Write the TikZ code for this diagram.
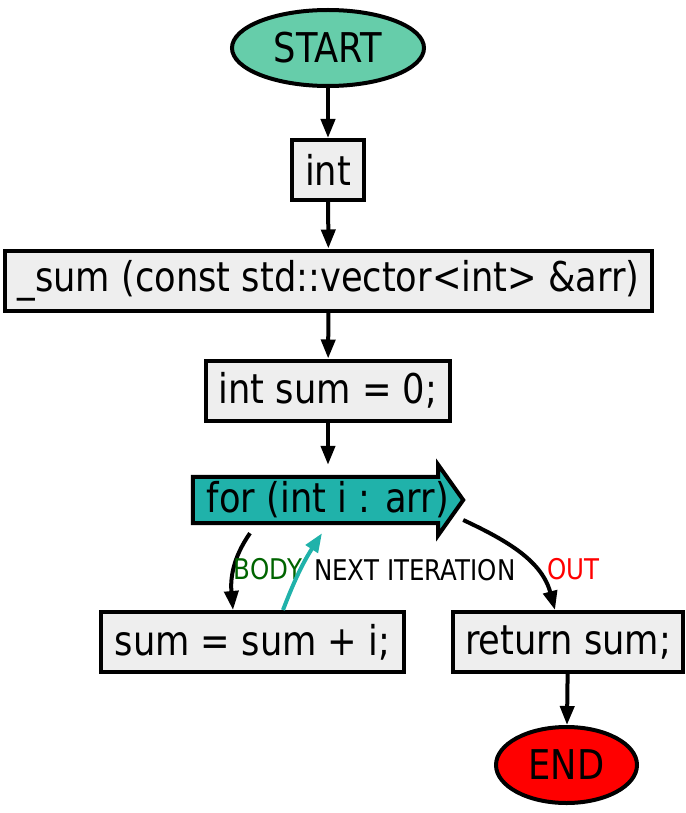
\documentclass[tikz,border=0pt]{standalone}
\usepackage{fontspec}
\setmainfont{DejaVu Sans}[FakeStretch=0.86]
\usetikzlibrary{arrows.meta, shapes.geometric, backgrounds}

\definecolor{startgreen}{HTML}{66CDAA}
\definecolor{loopteal}{HTML}{20B2AA}
\definecolor{boxgray}{HTML}{EEEEEE}
\definecolor{bodygreen}{HTML}{006400}

\tikzset{
    bigtext/.style={font=\fontsize{41}{49}\selectfont},
    stmt/.style={draw, line width=4pt, fill=boxgray, inner sep=0pt, minimum height=60pt, bigtext},
    terminal/.style={ellipse, draw, line width=4pt, inner sep=0pt, minimum height=76pt, bigtext},
    flow/.style={line width=4pt, -{Triangle[length=19pt,width=14pt]}},
    edgelabel/.style={font=\fontsize{28.5}{33}\selectfont, inner sep=2pt}
}

\begin{document}
\begin{tikzpicture}[x=1pt, y=-1pt]
    \useasboundingbox (0,0) rectangle (685,813);

    % Start and header
    \node[terminal, fill=startgreen, minimum width=192pt] (start) at (328,48) {START};
    \node[stmt, minimum width=72pt] (ret type) at (328,170) {int};
    \node[stmt, minimum width=647pt] (head) at (328.5,280.5) {\_sum (const std::vector<int> \&arr)};
    \node[stmt, minimum width=244pt] (init) at (328,390.5) {int sum = 0;};

    % Loop (arrow shaped box)
    \node[inner sep=0pt, minimum width=270pt, minimum height=70pt, bigtext] (loop) at (328,500) {for (int i : arr)};
    \begin{pgfonlayer}{background}
        \filldraw[fill=loopteal, line width=4pt, line join=miter]
            ([yshift=12pt]loop.south west) -- ([yshift=-12pt]loop.north west)
            -- ([xshift=-25pt,yshift=-12pt]loop.north east) -- ([xshift=-25pt]loop.north east)
            -- (loop.east) -- ([xshift=-25pt]loop.south east)
            -- ([xshift=-25pt,yshift=12pt]loop.south east) -- cycle;
    \end{pgfonlayer}

    % Body and exit
    \node[stmt, minimum width=303pt] (body) at (252.5,642) {sum = sum + i;};
    \node[stmt, minimum width=230pt] (ret) at (568,642) {return sum;};
    \node[terminal, fill=red, minimum width=141pt] (end) at (566.5,765) {END};

    % Straight flow
    \draw[flow] (start) -- (ret type);
    \draw[flow] (ret type) -- (head);
    \draw[flow] (head) -- (init);
    \draw[flow] (init) -- (loop);
    \draw[flow] (ret) -- (end);

    % Loop edges
    \draw[flow] ([xshift=-78pt,yshift=2pt]loop.south) to[out=-125, in=95]
        node[pos=0.5, right, xshift=-4pt, edgelabel, text=bodygreen] {BODY} ([xshift=-19.5pt]body.north);
    \draw[flow, loopteal] ([xshift=30.5pt]body.north) to[bend left=6]
        node[pos=0.5, right, xshift=10pt, edgelabel, text=black] {NEXT ITERATION} ([xshift=-6pt,yshift=2pt]loop.south);
    \draw[flow] ([yshift=-20pt]loop.east) to[out=-25, in=105]
        node[pos=0.66, right, xshift=8pt, edgelabel, text=red] {OUT} ([xshift=-13pt]ret.north);
\end{tikzpicture}
\end{document}
